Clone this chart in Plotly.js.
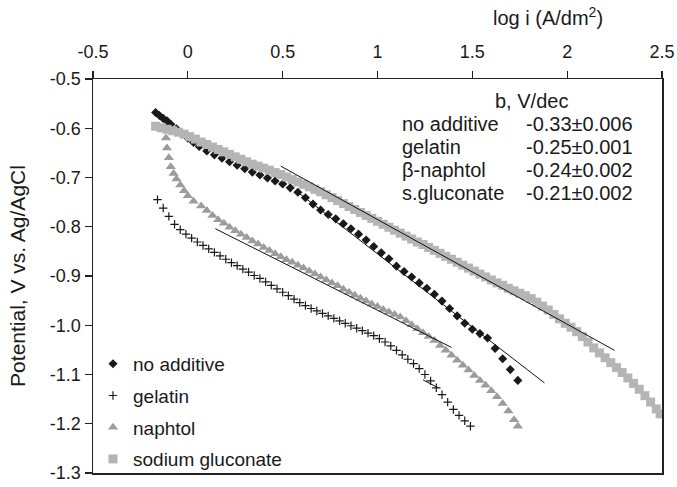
<!DOCTYPE html>
<html>
<head>
<meta charset="utf-8">
<script src="https://cdn.plot.ly/plotly-3.0.1.min.js"></script>
<style>html,body{margin:0;padding:0;background:#fff;}#chart{width:677px;height:487px;}</style>
</head>
<body>
<div id="chart"></div>
<script>
// ---- data ----
const seriesNames = ['no additive', 'gelatin', 'naphtol', 'sodium gluconate'];

const noAdditiveX = [-0.17,-0.15,-0.13,-0.11,-0.09,-0.06,-0.03,0.00,0.03,0.06,0.10,0.14,0.18,0.22,0.26,0.30,0.34,0.38,0.42,0.46,0.50,0.54,0.58,0.62,0.66,0.70,0.74,0.78,0.82,0.86,0.90,0.94,0.98,1.02,1.06,1.10,1.14,1.18,1.22,1.26,1.30,1.34,1.38,1.42,1.46,1.50,1.54,1.58,1.62,1.66,1.70,1.74];
const noAdditiveY = [-0.568,-0.574,-0.580,-0.585,-0.592,-0.601,-0.610,-0.620,-0.629,-0.637,-0.646,-0.654,-0.661,-0.668,-0.675,-0.682,-0.689,-0.695,-0.701,-0.707,-0.713,-0.721,-0.730,-0.741,-0.754,-0.766,-0.775,-0.784,-0.794,-0.804,-0.815,-0.827,-0.840,-0.853,-0.865,-0.880,-0.891,-0.902,-0.914,-0.925,-0.937,-0.951,-0.966,-0.981,-0.996,-1.008,-1.017,-1.026,-1.047,-1.068,-1.090,-1.112];

const gelatinX = [-0.16,-0.13,-0.10,-0.07,-0.04,-0.01,0.02,0.05,0.08,0.11,0.14,0.17,0.20,0.23,0.26,0.29,0.32,0.35,0.38,0.41,0.44,0.47,0.50,0.53,0.56,0.59,0.62,0.65,0.68,0.71,0.74,0.77,0.80,0.83,0.86,0.89,0.92,0.95,0.98,1.01,1.04,1.07,1.10,1.13,1.16,1.19,1.22,1.25,1.28,1.31,1.34,1.37,1.40,1.43,1.46,1.49];
const gelatinY = [-0.745,-0.762,-0.779,-0.795,-0.806,-0.815,-0.823,-0.831,-0.838,-0.845,-0.852,-0.859,-0.866,-0.873,-0.879,-0.886,-0.892,-0.899,-0.905,-0.912,-0.919,-0.926,-0.933,-0.940,-0.947,-0.954,-0.960,-0.966,-0.971,-0.976,-0.981,-0.986,-0.991,-0.996,-1.001,-1.006,-1.011,-1.016,-1.021,-1.027,-1.034,-1.042,-1.051,-1.060,-1.069,-1.078,-1.088,-1.100,-1.113,-1.127,-1.141,-1.156,-1.171,-1.183,-1.194,-1.205];

const naphtolX = [-0.12,-0.115,-0.11,-0.10,-0.09,-0.075,-0.06,-0.04,-0.02,0.00,0.03,0.07,0.10,0.13,0.16,0.19,0.22,0.25,0.28,0.31,0.34,0.37,0.40,0.43,0.46,0.49,0.52,0.55,0.58,0.61,0.64,0.67,0.70,0.73,0.76,0.79,0.82,0.85,0.88,0.91,0.94,0.97,1.00,1.03,1.06,1.09,1.12,1.15,1.18,1.21,1.24,1.27,1.30,1.33,1.36,1.39,1.42,1.45,1.48,1.51,1.54,1.57,1.60,1.63,1.66,1.69,1.72,1.74];
const naphtolY = [-0.600,-0.620,-0.640,-0.660,-0.678,-0.692,-0.703,-0.715,-0.727,-0.737,-0.748,-0.758,-0.767,-0.777,-0.786,-0.793,-0.801,-0.808,-0.815,-0.822,-0.829,-0.835,-0.842,-0.848,-0.855,-0.861,-0.867,-0.872,-0.878,-0.884,-0.890,-0.896,-0.902,-0.908,-0.914,-0.920,-0.927,-0.933,-0.939,-0.945,-0.951,-0.957,-0.962,-0.968,-0.973,-0.978,-0.983,-0.991,-0.999,-1.007,-1.015,-1.023,-1.031,-1.041,-1.051,-1.061,-1.071,-1.081,-1.091,-1.102,-1.112,-1.122,-1.133,-1.145,-1.159,-1.174,-1.192,-1.205];

const gluconateX = [-0.17,-0.14,-0.11,-0.08,-0.05,-0.02,0.01,0.04,0.07,0.10,0.13,0.16,0.19,0.22,0.25,0.28,0.31,0.34,0.37,0.40,0.43,0.46,0.49,0.52,0.55,0.58,0.61,0.64,0.67,0.70,0.73,0.76,0.79,0.82,0.85,0.88,0.91,0.94,0.97,1.00,1.03,1.06,1.09,1.12,1.15,1.18,1.21,1.24,1.27,1.30,1.33,1.36,1.39,1.42,1.45,1.48,1.51,1.54,1.57,1.60,1.63,1.66,1.69,1.72,1.75,1.78,1.81,1.84,1.87,1.90,1.93,1.96,1.99,2.02,2.05,2.08,2.11,2.14,2.17,2.20,2.23,2.26,2.29,2.32,2.35,2.38,2.41,2.44,2.47,2.49];
const gluconateY = [-0.596,-0.599,-0.602,-0.605,-0.608,-0.612,-0.617,-0.622,-0.628,-0.633,-0.638,-0.643,-0.648,-0.653,-0.658,-0.663,-0.668,-0.673,-0.677,-0.681,-0.685,-0.690,-0.694,-0.699,-0.704,-0.709,-0.714,-0.719,-0.724,-0.729,-0.735,-0.741,-0.747,-0.753,-0.759,-0.765,-0.771,-0.777,-0.783,-0.789,-0.795,-0.801,-0.807,-0.813,-0.819,-0.825,-0.831,-0.836,-0.842,-0.848,-0.854,-0.860,-0.866,-0.872,-0.878,-0.884,-0.890,-0.896,-0.902,-0.908,-0.914,-0.919,-0.925,-0.930,-0.935,-0.940,-0.946,-0.953,-0.961,-0.969,-0.978,-0.987,-0.996,-1.004,-1.013,-1.023,-1.034,-1.046,-1.056,-1.066,-1.076,-1.086,-1.096,-1.107,-1.118,-1.130,-1.143,-1.156,-1.170,-1.180];

// Tafel fit lines (start/end of each straight line)
const fitNoAdditiveX = [0.59, 1.88];
const fitNoAdditiveY = [-0.733, -1.117];
const fitGelatinX = [1.24, 1.32];
const fitGelatinY = [-1.111, -1.127];
const fitNaphtolX = [0.145, 1.39];
const fitNaphtolY = [-0.804, -1.045];
const fitGluconateX = [0.49, 2.25];
const fitGluconateY = [-0.677, -1.051];

// Tafel slope table
const tableTitle = 'b, V/dec';
const tableLabels = ['no additive', 'gelatin', 'β-naphtol', 's.gluconate'];
const tableValues = ['-0.33±0.006', '-0.25±0.001', '-0.24±0.002', '-0.21±0.002'];

// axes
const xTickVals = [-0.5, 0, 0.5, 1, 1.5, 2, 2.5];
const xTickText = ['-0.5', '0', '0.5', '1', '1.5', '2', '2.5'];
const yTickVals = [-1.3, -1.2, -1.1, -1.0, -0.9, -0.8, -0.7, -0.6, -0.5];
const yTickText = ['-1.3', '-1.2', '-1.1', '-1.0', '-0.9', '-0.8', '-0.7', '-0.6', '-0.5'];
const xTitle = 'log i (A/dm<sup>2</sup>)';
const yTitle = 'Potential, V vs. Ag/AgCl';

// ---- plot ----
const FONT = 'Liberation Sans, Arial, sans-serif';
const FS = 18;
const TXT = '#1a1a1a';

const traces = [
  {x: noAdditiveX, y: noAdditiveY, name: seriesNames[0], type: 'scatter', mode: 'markers', legendgroup: 'a',
   marker: {symbol: 'diamond', size: 7, color: '#1a1a1a'}},
  {x: gelatinX, y: gelatinY, name: seriesNames[1], type: 'scatter', mode: 'markers', legendgroup: 'b',
   marker: {symbol: 'cross-thin', size: 6, color: '#1a1a1a', line: {width: 1.2, color: '#1a1a1a'}}},
  {x: naphtolX, y: naphtolY, name: seriesNames[2], type: 'scatter', mode: 'markers', legendgroup: 'c',
   marker: {symbol: 'triangle-up', size: 9, color: '#9c9c9c'}},
  {x: gluconateX, y: gluconateY, name: seriesNames[3], type: 'scatter', mode: 'markers', legendgroup: 'd',
   marker: {symbol: 'square', size: 9, color: '#b5b5b5'}}
];
const fits = [[fitNoAdditiveX, fitNoAdditiveY], [fitGelatinX, fitGelatinY], [fitNaphtolX, fitNaphtolY], [fitGluconateX, fitGluconateY]];
fits.forEach(f => traces.push({x: f[0], y: f[1], type: 'scatter', mode: 'lines', showlegend: false,
  hoverinfo: 'skip', line: {color: '#111', width: 1}}));

const TFS = 20;
const annotations = [
  {text: xTitle, xref: 'paper', yref: 'paper', x: 0.80, y: 1.158, xanchor: 'center', yanchor: 'middle',
   showarrow: false, font: {family: FONT, size: TFS, color: TXT}},
  {text: tableTitle, xref: 'x', yref: 'y', x: 1.61, y: -0.5455, xanchor: 'left', yanchor: 'middle',
   showarrow: false, font: {family: FONT, size: TFS, color: TXT}}
];
tableLabels.forEach((lab, i) => {
  annotations.push({text: lab, xref: 'x', yref: 'y', x: 1.12, y: -0.592 - 0.0468 * i, xanchor: 'left', yanchor: 'middle',
    showarrow: false, font: {family: FONT, size: TFS, color: TXT}});
  annotations.push({text: tableValues[i], xref: 'x', yref: 'y', x: 1.775, y: -0.592 - 0.0468 * i, xanchor: 'left', yanchor: 'middle',
    showarrow: false, font: {family: FONT, size: TFS, color: TXT}});
});

const axisCommon = {
  showgrid: false, zeroline: false, showline: true, linecolor: '#222', linewidth: 1.5, mirror: true,
  ticks: 'outside', ticklen: 7, tickwidth: 1.2, tickcolor: '#222',
  tickfont: {family: FONT, size: FS, color: TXT}
};

const layout = {
  width: 677, height: 487,
  margin: {l: 93, r: 15, t: 79, b: 9, pad: 0},
  paper_bgcolor: '#fff', plot_bgcolor: '#fff',
  font: {family: FONT, size: FS, color: TXT},
  showlegend: true,
  legend: {x: 0.0, y: 0.325, xanchor: 'left', yanchor: 'top', bgcolor: 'rgba(0,0,0,0)', borderwidth: 0,
    font: {family: FONT, size: 19, color: TXT}, tracegroupgap: 4, itemwidth: 30},
  xaxis: Object.assign({}, axisCommon, {side: 'top', range: [-0.5, 2.5], tickvals: xTickVals, ticktext: xTickText,
    ticklabelstandoff: 5}),
  yaxis: Object.assign({}, axisCommon, {range: [-1.3, -0.5], tickvals: yTickVals, ticktext: yTickText,
    title: {text: yTitle, font: {family: FONT, size: 21, color: TXT}, standoff: 18}}),
  annotations: annotations
};

Plotly.newPlot('chart', traces, layout, {displayModeBar: false, staticPlot: true});
</script>
</body>
</html>
